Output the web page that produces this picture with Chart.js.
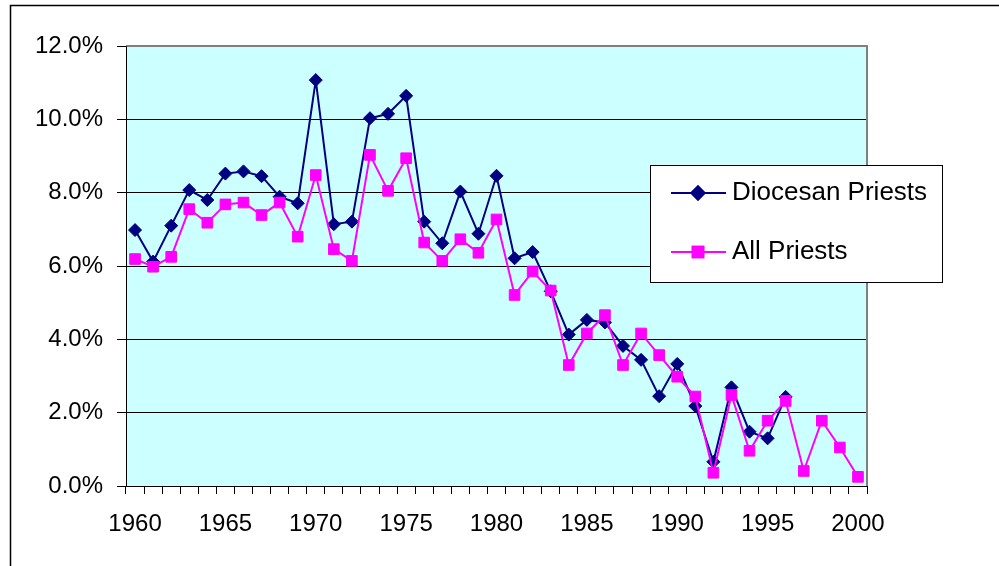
<!DOCTYPE html>
<html>
<head>
<meta charset="utf-8">
<script src="https://cdn.jsdelivr.net/npm/chart.js@4/dist/chart.umd.min.js"></script>
<style>
  body { margin: 0; background: #fff; }
  canvas { display: block; }
</style>
</head>
<body>
<canvas id="priestChart" width="999" height="566"></canvas>
<script>
// Years on the x axis
var years = [];
for (var y = 1960; y <= 2000; y++) years.push(String(y));

// Diocesan priests (%), series ends in 1996
var diocesan = [6.98, 6.12, 7.10, 8.07, 7.80, 8.52, 8.58, 8.45, 7.89, 7.71,
  11.07, 7.14, 7.21, 10.03, 10.15, 10.64, 7.21, 6.62, 8.03, 6.88,
  8.46, 6.21, 6.38, 5.31, 4.13, 4.53, 4.46, 3.82, 3.44, 2.45,
  3.33, 2.18, 0.66, 2.69, 1.48, 1.30, 2.43, null, null, null, null];

// All priests (%)
var allPriests = [6.19, 5.98, 6.25, 7.55, 7.18, 7.68, 7.73, 7.39, 7.73, 6.80,
  8.48, 6.46, 6.14, 9.03, 8.05, 8.94, 6.64, 6.14, 6.73, 6.36,
  7.27, 5.21, 5.85, 5.33, 3.30, 4.16, 4.66, 3.30, 4.16, 3.57,
  2.98, 2.44, 0.36, 2.48, 0.96, 1.78, 2.32, 0.41, 1.78, 1.05, 0.25];

var yTicks = [0, 2, 4, 6, 8, 10, 12];

var FONT = '"Liberation Sans", Arial, sans-serif';

// Cyan plot area, grey plot border, outer frame
var plotBox = {
  id: 'plotBox',
  beforeDraw: function(chart) {
    var a = chart.chartArea, c = chart.ctx;
    c.save();
    c.fillStyle = '#ccffff';
    c.fillRect(a.left, a.top, a.right - a.left, a.bottom - a.top);
    c.restore();
  },
  beforeDatasetsDraw: function(chart) {
    var a = chart.chartArea, c = chart.ctx;
    c.save();
    c.strokeStyle = '#808080';
    c.lineWidth = 2;
    c.beginPath();
    c.moveTo(a.left, a.top);
    c.lineTo(a.right, a.top);
    c.lineTo(a.right, a.bottom);
    c.stroke();
    c.strokeStyle = '#000';
    c.lineWidth = 1;
    c.beginPath();
    c.moveTo(a.left + 0.5, a.top);
    c.lineTo(a.left + 0.5, a.bottom);
    c.stroke();
    c.restore();
  },
  afterDraw: function(chart) {
    var c = chart.ctx;
    c.save();
    c.strokeStyle = '#000';
    c.lineWidth = 1.5;
    c.beginPath();
    c.moveTo(10.5, 566);
    c.lineTo(10.5, 5.5);
    c.lineTo(999, 5.5);
    c.stroke();
    c.restore();
  }
};

// Legend box drawn inside the plot, like the original
var boxLegend = {
  id: 'boxLegend',
  afterDraw: function(chart) {
    var c = chart.ctx;
    var x0 = 650, y0 = 165, w = 292, h = 117;
    c.save();
    c.fillStyle = '#fff';
    c.fillRect(x0, y0, w, h);
    c.strokeStyle = '#000';
    c.lineWidth = 1;
    c.strokeRect(x0 + 0.5, y0 + 0.5, w, h);
    var rows = [193, 252];
    chart.data.datasets.forEach(function(ds, i) {
      var yy = rows[i];
      c.strokeStyle = ds.borderColor;
      c.lineWidth = 2;
      c.beginPath();
      c.moveTo(671, yy);
      c.lineTo(726, yy);
      c.stroke();
      c.fillStyle = ds.backgroundColor;
      Chart.helpers.drawPoint(c, {
        pointStyle: ds.pointStyle, radius: ds.pointRadius, borderWidth: 1, rotation: 0
      }, 698, yy);
      c.fill();
      c.stroke();
      c.fillStyle = '#000';
      c.font = '26px ' + FONT;
      c.textBaseline = 'middle';
      c.fillText(ds.label, 732, yy);
    });
    c.restore();
  }
};

var ctx = document.getElementById('priestChart').getContext('2d');

var myChart = new Chart(ctx, {
  type: 'line',
  data: {
    labels: years,
    datasets: [{
      label: 'Diocesan Priests',
      data: diocesan,
      borderColor: '#000080',
      backgroundColor: '#000080',
      borderWidth: 2,
      pointStyle: 'rectRot',
      pointRadius: 6.5,
      pointBorderWidth: 1,
      pointBackgroundColor: '#000080',
      pointBorderColor: '#000080',
      tension: 0,
      spanGaps: false,
      order: 2
    }, {
      label: 'All Priests',
      data: allPriests,
      borderColor: '#ff00ff',
      backgroundColor: '#ff00ff',
      borderWidth: 2,
      pointStyle: 'rect',
      pointRadius: 7.5,
      pointBorderWidth: 1,
      pointBackgroundColor: '#ff00ff',
      pointBorderColor: '#ff00ff',
      tension: 0,
      order: 1
    }]
  },
  options: {
    responsive: false,
    animation: false,
    layout: { padding: { left: 0, top: 46, right: 132, bottom: 0 } },
    plugins: {
      legend: { display: false },
      tooltip: { enabled: false }
    },
    scales: {
      x: {
        type: 'category',
        offset: true,
        afterFit: function(s) { s.height = 80; },
        grid: {
          display: true,
          offset: true,
          drawOnChartArea: false,
          drawTicks: true,
          tickLength: 8,
          color: '#000',
          lineWidth: 1
        },
        border: { display: true, color: '#000', width: 1 },
        ticks: {
          autoSkip: false,
          maxRotation: 0,
          padding: 16,
          color: '#000',
          font: { family: FONT, size: 24 },
          callback: function(v, i) {
            var lab = years[i];
            return (Number(lab) % 5 === 0) ? lab : '';
          }
        }
      },
      y: {
        min: 0,
        max: 12,
        afterFit: function(s) { s.width = 126; },
        afterBuildTicks: function(s) {
          s.ticks = yTicks.map(function(v) { return { value: v }; });
        },
        grid: {
          color: '#000',
          lineWidth: 1,
          tickLength: 9
        },
        border: { display: true, color: '#000', width: 1 },
        ticks: {
          padding: 14,
          color: '#000',
          font: { family: FONT, size: 24 },
          callback: function(v) { return v.toFixed(1) + '%'; }
        }
      }
    }
  },
  plugins: [plotBox, boxLegend]
});
</script>
</body>
</html>
